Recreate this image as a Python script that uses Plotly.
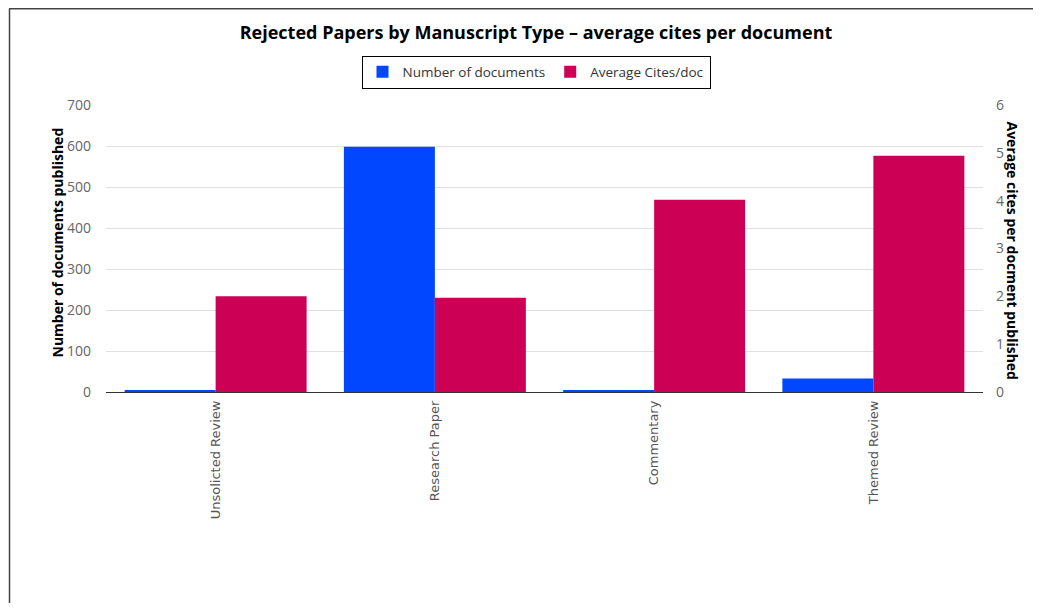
import plotly.graph_objects as go

categories = ["Unsolicted Review", "Research Paper", "Commentary", "Themed Review"]
num_documents = [5, 598, 3, 33]
avg_cites = [2.0, 1.97, 4.02, 4.94]

OFF = 8  # page body margin
W, H = 1041 - 2 * OFF, 611 - 2 * OFF
# plot area in page pixels: x 106..983, y 105..392
L = 106 - OFF
T = 105 - OFF
R = W - (983 - OFF)
B = H - (392 - OFF)
pw = W - L - R
ph = H - T - B

def px_x(x):  # page px -> paper
    return (x - OFF - L) / pw

def px_y(y):
    return (H - B - (y - OFF)) / ph

fig = go.Figure()
fig.add_trace(go.Bar(
    x=categories, y=num_documents, name="Number of documents",
    marker=dict(color="#0047FF", line=dict(width=0)),
    offsetgroup="1", yaxis="y",
))
fig.add_trace(go.Bar(
    x=categories, y=avg_cites, name="Average Cites/doc",
    marker=dict(color="#CC0055", line=dict(width=0)),
    offsetgroup="2", yaxis="y2",
))

border = dict(color="#444", width=1.5)
fig.update_layout(
    width=W, height=H,
    margin=dict(l=L, r=R, t=T, b=B),
    paper_bgcolor="white", plot_bgcolor="white",
    barmode="group", bargap=0.17, bargroupgap=0,
    font=dict(family="Open Sans", size=13, color="#666"),
    title=dict(
        text="<b>Rejected Papers by Manuscript Type – average cites per document</b>",
        x=px_x(536), xref="paper", xanchor="center",
        y=1 - (33 - OFF) / H, yanchor="middle",
        font=dict(family="Open Sans", size=18, color="#000"),
    ),
    legend=dict(
        orientation="h", x=px_x(536), xanchor="center", y=px_y(72), yanchor="middle",
        bordercolor="#000", borderwidth=1, bgcolor="white",
        font=dict(family="Open Sans", size=13.5, color="#333"),
        itemwidth=30, tracegroupgap=0,
    ),
    xaxis=dict(
        tickangle=-90, showgrid=False, showline=False, ticks="",
        tickfont=dict(family="DejaVu Sans", size=13, color="#555"),
        ticklabelstandoff=5,
    ),
    yaxis=dict(
        range=[0, 700], dtick=100, showgrid=True, gridcolor="#e0e0e0", gridwidth=1,
        zeroline=True, zerolinecolor="#333", zerolinewidth=1,
        showline=False, ticks="", tickfont=dict(size=14, color="#666"),
        ticklabelstandoff=14,
    ),
    yaxis2=dict(
        range=[0, 6], dtick=1, overlaying="y", side="right", showgrid=False,
        zeroline=False, showline=False, ticks="",
        tickfont=dict(size=14, color="#666"), ticklabelstandoff=12,
    ),
    annotations=[
        dict(text="<b>Number of documents published</b>", xref="paper", yref="paper",
             x=px_x(45), y=px_y(243), textangle=-90, showarrow=False,
             font=dict(family="Open Sans", size=14, color="#000")),
        dict(text="<b>Average cites per docment published</b>", xref="paper", yref="paper",
             x=px_x(1024), y=px_y(251), textangle=90, showarrow=False,
             font=dict(family="Open Sans", size=14, color="#000")),
    ],
    shapes=[
        dict(type="line", xref="paper", yref="paper",
             x0=px_x(9), x1=px_x(1033), y0=px_y(OFF + 0.75), y1=px_y(OFF + 0.75),
             line=border, layer="below"),
        dict(type="line", xref="paper", yref="paper",
             x0=px_x(9.5), x1=px_x(9.5), y0=px_y(603), y1=px_y(OFF + 0.75),
             line=border, layer="below"),
    ],
)

fig.write_html("out.html")
